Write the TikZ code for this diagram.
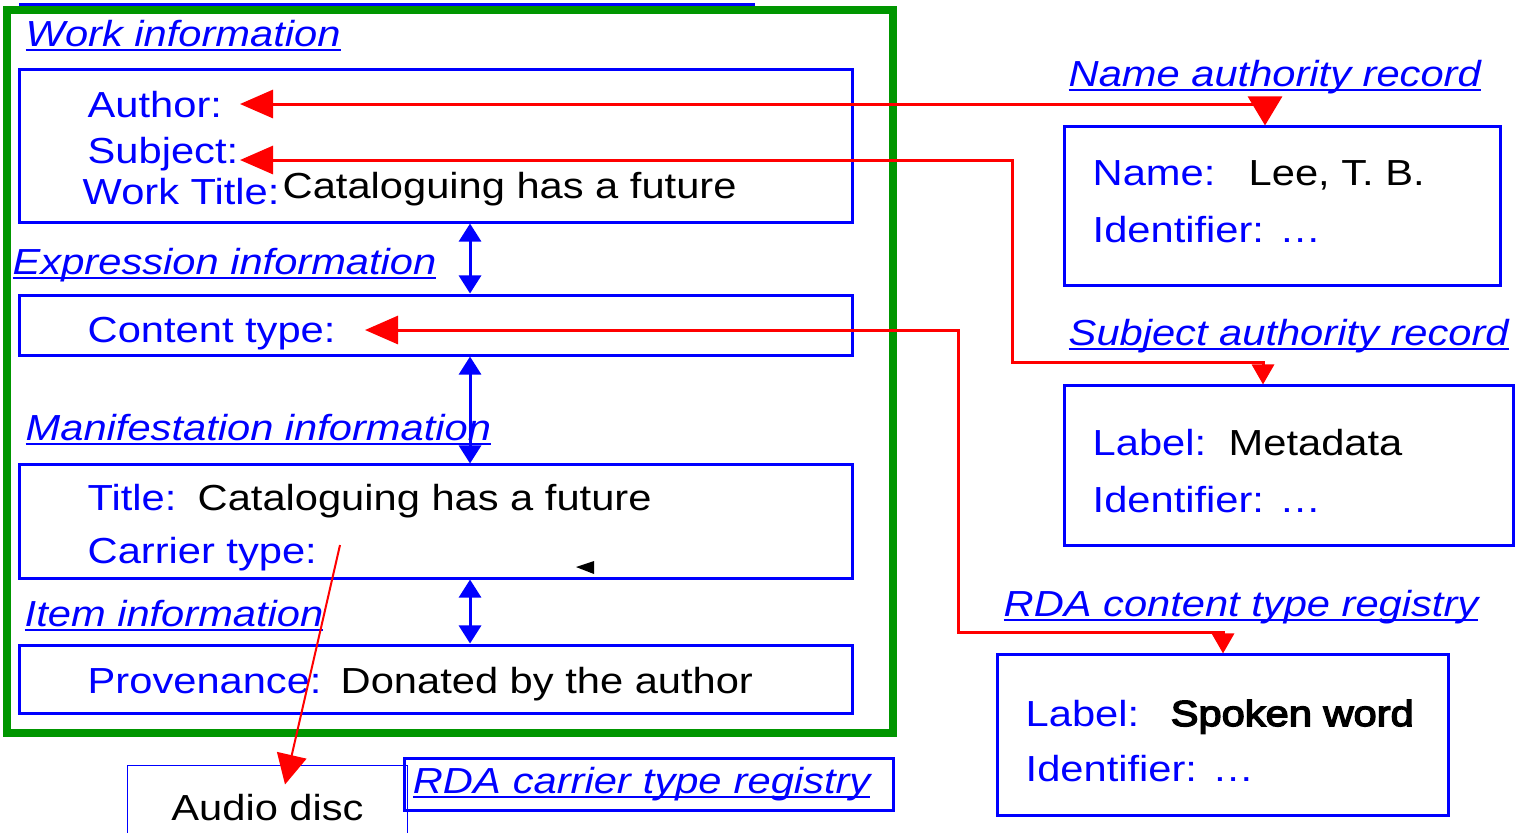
\documentclass[tikz,border=0pt]{standalone}
\usepackage{fontspec}
\setmainfont[FakeStretch=1.15]{Liberation Sans}
\newfontfamily\heavyfont[FakeStretch=1.15,FakeBold=4]{Liberation Sans}
\usetikzlibrary{arrows.meta}
\definecolor{rdagreen}{RGB}{0,150,0}
\newcommand{\ulbox}[1]{\setbox0\hbox{#1}\rlap{\rule[-0.14em]{\wd0}{0.06em}}\box0}

\begin{document}
\begin{tikzpicture}[x=0.01cm,y=-0.01cm,
    every node/.style={inner sep=0pt,font=\fontsize{10.3pt}{12pt}\selectfont},
    box/.style={draw=blue,line width=0.03cm},
    lbl/.style={anchor=base west,text=blue},
    val/.style={anchor=base west},
    head/.style={anchor=base west,text=blue,font=\fontsize{10.3pt}{12pt}\selectfont\itshape},
    link/.style={red,line width=0.03cm,{Triangle[length=0.33cm,width=0.28cm]}-{Triangle[length=0.2cm,width=0.22cm]}},
    level/.style={blue,line width=0.03cm,{Triangle[length=0.18cm,width=0.22cm]}-{Triangle[length=0.18cm,width=0.22cm]}}]
    \useasboundingbox (0,0) rectangle (1516,832);

    \draw[blue,line width=0.035cm] (19,5) -- (755,5);
    \draw[rdagreen,line width=0.08cm] (7,10) rectangle (893,733);

    \node[head] (workhead) at (25,46) {\ulbox{Work information}};
    \node[box,minimum width=8.32cm,minimum height=1.52cm] (workbox) at (436,146) {};
    \node[lbl] (author) at (87,117) {Author:};
    \node[lbl] (subject) at (87,163) {Subject:};
    \node[lbl] (worktitle) at (82,204) {Work Title:};
    \node[val] (worktitleval) at (282,198) {Cataloguing has a future};

    \node[head] (exprhead) at (12,274) {\ulbox{Expression information}};
    \node[box,minimum width=8.32cm,minimum height=0.6cm] (exprbox) at (436,325) {};
    \node[lbl] (content) at (87,342) {Content type:};

    \node[head] (manifhead) at (25,440) {\ulbox{Manifestation information}};
    \node[box,minimum width=8.32cm,minimum height=1.13cm] (manifbox) at (436,521.5) {};
    \node[lbl] (title) at (87,510) {Title:};
    \node[val] (titleval) at (197,510) {Cataloguing has a future};
    \node[lbl] (carrier) at (87,563) {Carrier type:};

    \node[head] (itemhead) at (24,626) {\ulbox{Item information}};
    \node[box,minimum width=8.32cm,minimum height=0.68cm] (itembox) at (436,679) {};
    \node[lbl] (provenance) at (87,693) {Provenance:};
    \node[val] (provenanceval) at (340,693) {Donated by the author};

    \node[draw=blue,line width=0.01cm,minimum width=2.79cm,minimum height=0.85cm] (audiobox) at (267.5,807.5) {Audio disc};
    \node[box,text=blue,font=\fontsize{10.3pt}{12pt}\selectfont\itshape,inner xsep=0.08cm,text width=4.72cm,align=left,minimum height=0.52cm] (carrierreg) at (649,784) {\ulbox{RDA carrier type registry}};

    \node[head] (namehead) at (1068,86) {\ulbox{Name authority record}};
    \node[box,minimum width=4.35cm,minimum height=1.58cm] (namebox) at (1282.5,206) {};
    \node[lbl] (name) at (1092,185) {Name:};
    \node[val] (nameval) at (1248,185) {Lee, T. B.};
    \node[lbl] (nameid) at (1092,242) {Identifier: …};

    \node[head] (subjhead) at (1068,345) {\ulbox{Subject authority record}};
    \node[box,minimum width=4.48cm,minimum height=1.59cm] (subjbox) at (1289,465.5) {};
    \node[lbl] (subjlabel) at (1092,455) {Label:};
    \node[val] (subjval) at (1228,455) {Metadata};
    \node[lbl] (subjid) at (1092,512) {Identifier: …};

    \node[head] (conthead) at (1003,616) {\ulbox{RDA content type registry}};
    \node[box,minimum width=4.5cm,minimum height=1.6cm] (contbox) at (1223,735) {};
    \node[lbl] (contlabel) at (1025,726) {Label:};
    \node[val] (contval) at (1170,726) {\heavyfont Spoken word};
    \node[lbl] (contid) at (1025,781) {Identifier: …};

    \draw[level] ([xshift=0.34cm]workbox.south) -- ([xshift=0.34cm]exprbox.north);
    \draw[level] ([xshift=0.34cm]exprbox.south) -- ([xshift=0.34cm]manifbox.north);
    \draw[level] ([xshift=0.34cm]manifbox.south) -- ([xshift=0.34cm]itembox.north);

    \coordinate (authortip) at (240,104);
    \coordinate (subjecttip) at (240,160);
    \coordinate (contenttip) at (365,330);
    \coordinate (carrierfrom) at (340,545);
    \draw[link,{Triangle[length=0.33cm,width=0.28cm]}-{Triangle[length=0.29cm,width=0.34cm]}] (authortip) -| ([xshift=-0.175cm]namebox.north);
    \draw[link] (subjecttip) -| (1012,362) -| ([xshift=-0.26cm]subjbox.north);
    \draw[link] (contenttip) -| (958,632) -| (contbox.north);
    \draw[red,line width=0.02cm,-{Triangle[length=0.3cm,width=0.3cm]}] (carrierfrom) -- ([shift={(0.175cm,-0.2cm)}]audiobox.north);
    \fill (576,567) -- (594,561) -- (594,574) -- cycle;
\end{tikzpicture}
\end{document}
